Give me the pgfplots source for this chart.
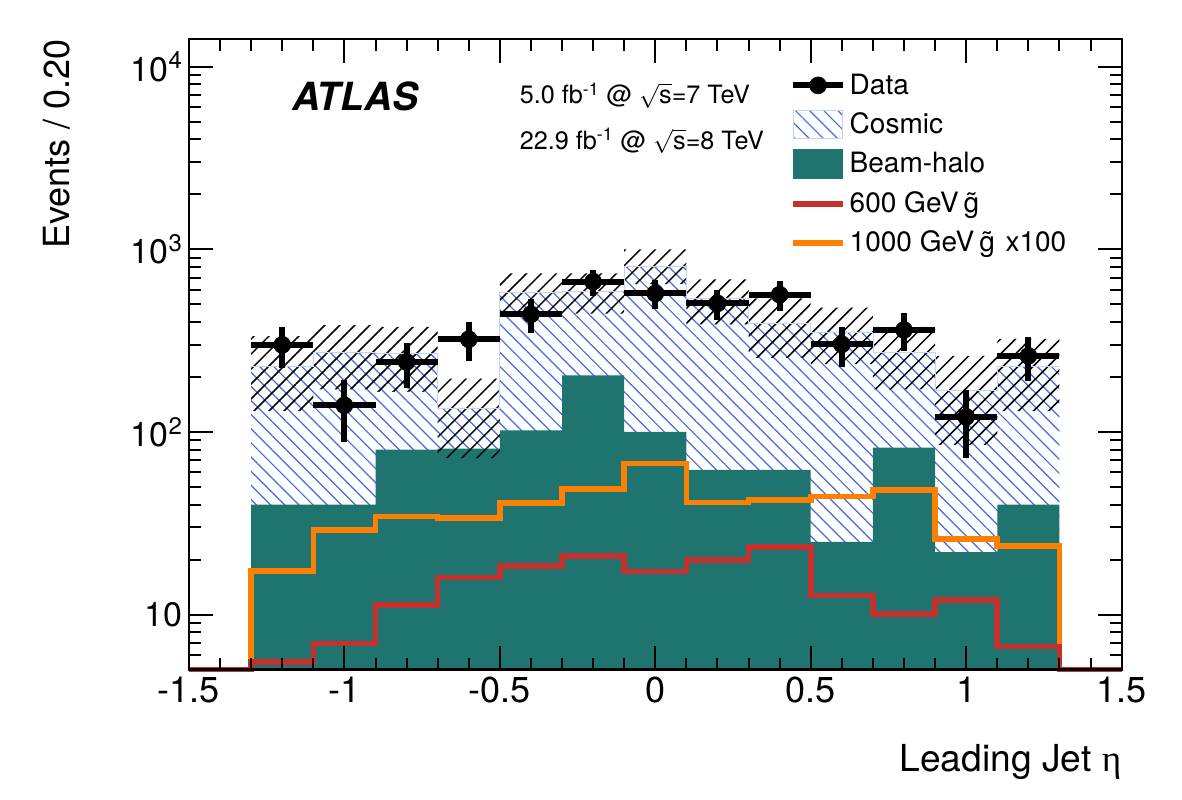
\documentclass[border=0pt]{standalone}
\usepackage{pgfplots}
\pgfplotsset{compat=1.18}
\usepackage{pgfplotstable}
\usepgfplotslibrary{fillbetween}
\usetikzlibrary{patterns.meta}
\usepackage{fontspec}
\setmainfont{TeX Gyre Heros}
\newfontfamily\greekfont{Liberation Serif}

\definecolor{halo}{RGB}{31,116,112}
\definecolor{cosmicblue}{RGB}{65,105,225}
\definecolor{sigorange}{RGB}{255,127,0}
\definecolor{sigred}{RGB}{196,48,43}

\newcommand{\gluino}{\hspace{2.5pt}\smash{\accent"02DC g}\hspace{1.5pt}}
\newcommand{\tenpow}[1]{10\raisebox{6.2pt}{\fontsize{12}{12}\selectfont #1}}

% data points: bin centre, events, uncertainty
\pgfplotstableread{
x     y    e
-1.2  300  77
-1.0  140  52
-0.8  242  67
-0.6  322  78
-0.4  441  93
-0.2  666  110
 0.0  574  102
 0.2  506  95
 0.4  565  103
 0.6  302  74
 0.8  362  84
 1.0  121  49
 1.2  261  70
}\datatab

% background stack (left bin edges): cosmic+halo total, beam-halo, uncertainty band
\pgfplotstableread{
edge  tot  halo  hi    lo
-1.3  230  40    335   130
-1.1  274  40    385   171
-0.9  270  80    376   166
-0.7  134  81    196   72
-0.5  585  102   740   445
-0.3  590  204   740   445
-0.1  811  100   1000  645
 0.1  537  62    685   388
 0.3  392  62    540   255
 0.5  353  25    480   235
 0.7  272  82    377   171
 0.9  168  22    261   85
 1.1  228  40    324   130
 1.3  228  40    324   130
}\bkgtab

% signal samples (left bin edges)
\pgfplotstableread{
edge  red   orange
-1.5  5     5
-1.3  5.5   17.3
-1.1  6.95  29.1
-0.9  11.3  34.4
-0.7  16.0  33.7
-0.5  18.5  40.7
-0.3  21.0  48.6
-0.1  17.2  67.1
 0.1  19.9  41.1
 0.3  23.5  42.5
 0.5  12.7  44.3
 0.7  10.05 48.2
 0.9  12.0  25.9
 1.1  6.7   23.8
 1.3  5     5
 1.5  5     5
}\sigtab

\begin{document}
\begin{tikzpicture}
\begin{axis}[
  at={(0pt,0pt)}, anchor=south west,
  scale only axis, width=466.35pt, height=315.3pt,
  xmin=-1.5, xmax=1.5,
  ymode=log, ymin=5, ymax=14200,
  axis on top,
  clip=false,
  axis line style={line width=1.1pt},
  tick align=inside,
  every tick/.style={black, line width=1pt},
  major tick length=12pt, minor tick length=6pt,
  xtick={-1.5,-1,-0.5,0,0.5,1,1.5},
  xticklabels={-1.5,-1,-0.5,0,0.5,1,1.5},
  minor x tick num=4,
  ytick={10,100,1000,10000},
  yticklabels={10,\tenpow{2},\tenpow{3},\tenpow{4}},
  minor ytick={5,6,7,8,9,20,30,40,50,60,70,80,90,200,300,400,500,600,700,800,900,2000,3000,4000,5000,6000,7000,8000,9000},
  xticklabel style={font=\fontsize{18}{20}\selectfont},
  yticklabel style={font=\fontsize{17}{19}\selectfont},
  legend style={at={(0.6448,0.9502)}, anchor=north west, draw=none, fill=none,
    inner sep=0pt, outer sep=0pt, row sep=4.7pt, column sep=0pt,
    font=\fontsize{14}{16}\selectfont, nodes={inner sep=0pt}},
  legend cell align=left,
]
% histogram floor at the lower axis limit
\addplot[name path=base, draw=none, forget plot] coordinates {(-1.3,5) (1.3,5)};
% cosmic (stack total)
\addplot[name path=tot, const plot, draw=cosmicblue!30, line width=0.4pt, forget plot]
  table[x=edge, y=tot] {\bkgtab};
\addplot[draw=none, pattern={Lines[angle=-45, distance=5pt, line width=0.6pt]},
  pattern color=cosmicblue, forget plot] fill between[of=tot and base];
% beam-halo
\addplot[name path=halo, const plot, draw=none, forget plot]
  table[x=edge, y=halo] {\bkgtab};
\addplot[draw=none, fill=halo, forget plot] fill between[of=halo and base];
% background uncertainty band
\addplot[name path=hi, const plot, draw=none, forget plot] table[x=edge, y=hi] {\bkgtab};
\addplot[name path=lo, const plot, draw=none, forget plot] table[x=edge, y=lo] {\bkgtab};
\addplot[draw=none, pattern={Lines[angle=45, distance=5.3pt, line width=0.75pt]},
  pattern color=black, forget plot] fill between[of=hi and lo];
% signals (empty bins sit on the lower frame)
\addplot[const plot, sigorange, line width=2.8pt, forget plot]
  table[x=edge, y=orange] {\sigtab};
\addplot[const plot, sigred, line width=2.8pt, forget plot]
  table[x=edge, y=red] {\sigtab};
% data
\addplot[only marks, black, mark=*, mark size=4.2pt, forget plot,
  error bars/.cd, x dir=both, x fixed=0.1, y dir=both, y explicit,
  error mark=none, error bar style={line width=3pt, black}]
  table[x=x, y=y, y error=e] {\datatab};

% legend
\addlegendimage{legend image code/.code={
  \path[draw=none, fill=none] (0pt,-7.5pt) rectangle (28.2pt,7.5pt);
  \draw[black, line width=3pt] (0pt,0pt) -- (24.7pt,0pt);
  \fill[black] (12.35pt,0pt) circle (4.2pt);}}
\addlegendentry{Data}
\addlegendimage{legend image code/.code={
  \path[draw=none, fill=none] (0pt,-7.5pt) rectangle (28.2pt,7.5pt);
  \draw[cosmicblue!30, line width=0.4pt, pattern={Lines[angle=-45, distance=5pt, line width=0.6pt]},
    pattern color=cosmicblue] (0pt,-7pt) rectangle (24.7pt,7pt);}}
\addlegendentry{Cosmic}
\addlegendimage{legend image code/.code={
  \path[draw=none, fill=none] (0pt,-7.5pt) rectangle (28.2pt,7.5pt);
  \fill[halo] (0pt,-7.25pt) rectangle (24.7pt,7.25pt);}}
\addlegendentry{Beam-halo}
\addlegendimage{legend image code/.code={
  \path[draw=none, fill=none] (0pt,-7.5pt) rectangle (28.2pt,7.5pt);
  \draw[sigred, line width=3pt] (0pt,0pt) -- (24.7pt,0pt);}}
\addlegendentry{600 GeV\gluino}
\addlegendimage{legend image code/.code={
  \path[draw=none, fill=none] (0pt,-7.5pt) rectangle (28.2pt,7.5pt);
  \draw[sigorange, line width=3pt] (0pt,0pt) -- (24.7pt,0pt);}}
\addlegendentry{1000 GeV\gluino{} x100}
\end{axis}

% labels and annotations
\node[anchor=base east, font=\fontsize{18.6}{20}\selectfont, inner sep=0pt]
  at (466.35pt,-51pt) {Leading Jet {\greekfont η}};
\node[rotate=90, anchor=base east, font=\fontsize{18}{20}\selectfont, inner sep=0pt]
  at (-59.5pt,315.3pt) {Events / 0.20};
\node[anchor=base west, font=\fontsize{19.4}{21}\selectfont\bfseries\itshape, inner sep=0pt]
  at (51.35pt,279.3pt) {ATLAS};
\node[anchor=base west, font=\fontsize{12.6}{14}\selectfont, inner sep=0pt]
  at (165.25pt,282.8pt) {5.0 fb\textsuperscript{-1} @ $\sqrt{\hbox{s}}$=7 TeV};
\node[anchor=base west, font=\fontsize{12.6}{14}\selectfont, inner sep=0pt]
  at (165.25pt,260.15pt) {22.9 fb\textsuperscript{-1} @ $\sqrt{\hbox{s}}$=8 TeV};

% page frame
\pgfresetboundingbox
\path[use as bounding box] (-94.5pt,-65.2pt) rectangle (496.55pt,334.8pt);
\end{tikzpicture}
\end{document}
